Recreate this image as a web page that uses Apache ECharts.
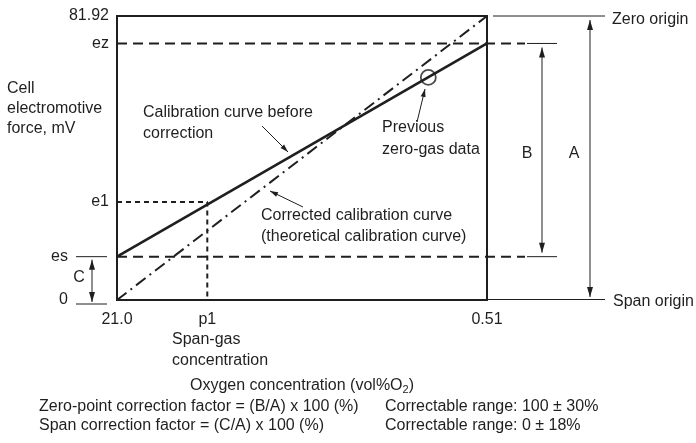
<!DOCTYPE html>
<html>
<head>
<meta charset="utf-8">
<script src="https://cdn.jsdelivr.net/npm/echarts@6/dist/echarts.min.js"></script>
<style>
  html, body { margin: 0; padding: 0; background: #fff; }
  #chart { width: 696px; height: 443px; }
</style>
</head>
<body>
<div id="chart"></div>
<script>
// Oxygen concentration axis (vol%O2): span gas on the left, zero gas on the right
const xSpan = 21.0;
const xZero = 0.51;
const p1 = 16.0;             // span-gas concentration

// Cell electromotive force (mV)
const yTop = 81.92;
const ez = 74.0;
const es = 12.5;
const e1 = 28.3;

// Calibration curves and the previous zero-gas reading
const curveBefore = [[xSpan, es], [xZero, ez]];
const curveCorrected = [[xSpan, 0], [xZero, yTop]];
const previousZero = [[3.76, 64.2]];
const e1Guide = [[xSpan, e1], [p1, e1], [p1, 0]];

// Tick labels
const xTicks = [xSpan, p1, xZero];
const xTickLabels = ['21.0', 'p1', '0.51'];
const yTicks = [0, es, e1, ez, yTop];
const yTickLabels = ['0', 'es', 'e1', 'ez', '81.92'];
const yFarLabels = ['0', 'es'];

const INK = '#1f1f1f';
const FONT = 'Liberation Sans, Arial, sans-serif';
const FS = 16;

const chart = echarts.init(document.getElementById('chart'), null, { renderer: 'canvas' });

chart.setOption({
  animation: false,
  backgroundColor: '#fff',
  textStyle: { fontFamily: FONT, color: INK },
  grid: {
    left: 117, right: 209, top: 16, bottom: 143,
    show: true, borderColor: INK, borderWidth: 2, backgroundColor: 'transparent'
  },
  xAxis: {
    type: 'value', inverse: true, min: xZero, max: xSpan,
    axisLine: { show: false }, axisTick: { show: false }, splitLine: { show: false },
    axisLabel: {
      customValues: xTicks,
      margin: 12,
      fontFamily: FONT, fontSize: FS, color: INK,
      formatter: v => xTickLabels[xTicks.indexOf(v)] ?? ''
    },
    name: 'Oxygen concentration (vol%O{sub|2})',
    nameLocation: 'middle',
    nameGap: 77,
    nameTextStyle: {
      fontFamily: FONT, fontSize: FS, color: INK,
      rich: { sub: { fontSize: 11, verticalAlign: 'bottom', padding: [7, 0, 0, 0], fontFamily: FONT, color: INK } }
    }
  },
  yAxis: {
    type: 'value', min: 0, max: yTop,
    axisLine: { show: false }, axisTick: { show: false }, splitLine: { show: false },
    axisLabel: {
      customValues: yTicks,
      margin: 8,
      fontFamily: FONT, fontSize: FS, color: INK,
      formatter: v => {
        const t = yTickLabels[yTicks.indexOf(v)] ?? '';
        return yFarLabels.includes(t) ? '{far|' + t + '}' : t;
      },
      rich: { far: { padding: [0, 41, 0, 0], fontFamily: FONT, fontSize: FS, color: INK } }
    }
  },
  series: [
    {
      name: 'Calibration curve before correction', type: 'line', data: curveBefore,
      symbol: 'none', lineStyle: { color: INK, width: 2.6 }, z: 5
    },
    {
      name: 'Corrected calibration curve', type: 'line', data: curveCorrected,
      symbol: 'none', lineStyle: { color: INK, width: 2, type: [12, 5, 2, 5] }, z: 4
    },
    {
      name: 'e1 guide', type: 'line', data: e1Guide,
      symbol: 'none', lineStyle: { color: INK, width: 2, type: [5, 4] }, z: 3
    },
    {
      name: 'Previous zero-gas data', type: 'scatter', data: previousZero,
      symbol: 'circle', symbolSize: 15,
      itemStyle: { color: 'rgba(255,255,255,0)', borderColor: INK, borderWidth: 1.8 }, z: 6
    }
  ]
});

// Annotations placed from the axis scales
const px = (x, y) => chart.convertToPixel({ gridIndex: 0 }, [x, y]);
const yOf = v => px(xSpan, v)[1];
const xLeft = px(xSpan, 0)[0];
const xRight = px(xZero, 0)[0];

function seg(x1, y1, x2, y2, w, dash) {
  return {
    type: 'line', silent: true,
    shape: { x1, y1, x2, y2 },
    style: { stroke: INK, lineWidth: w, lineDash: dash || null }
  };
}
function head(tx, ty, fx, fy, len, half) {
  const dx = tx - fx, dy = ty - fy, L = Math.hypot(dx, dy);
  const ux = dx / L, uy = dy / L;
  const bx = tx - ux * len, by = ty - uy * len;
  return {
    type: 'polygon', silent: true,
    shape: { points: [[tx, ty], [bx - uy * half, by + ux * half], [bx + uy * half, by - ux * half]] },
    style: { fill: INK }
  };
}
function arrow(x1, y1, x2, y2, both, len, half) {
  const out = [seg(x1, y1, x2, y2, 1)];
  out.push(head(x2, y2, x1, y1, len || 10, half || 3));
  if (both) out.push(head(x1, y1, x2, y2, len || 10, half || 3));
  return out;
}
function text(str, x, y, opts) {
  return {
    type: 'text', silent: true, x, y,
    style: Object.assign({
      text: str, fill: INK, fontFamily: FONT, fontSize: FS,
      align: 'left', verticalAlign: 'middle'
    }, (opts && opts.style) || {})
  };
}
function block(str, x, yFirst, lh) {
  return {
    type: 'text', silent: true, x, y: yFirst - lh / 2,
    style: { text: str, fill: INK, fontFamily: FONT, fontSize: FS, lineHeight: lh, align: 'left', verticalAlign: 'top' }
  };
}

const yT = yOf(yTop), yZ = yOf(ez), yS = yOf(es), y0 = yOf(0);

const g = [];
// Dashed ez / es reference lines and their extensions
g.push(seg(xLeft, yZ, 525, yZ, 2, [10, 6]));
g.push(seg(xLeft, yS, 525, yS, 2, [10, 6]));
g.push(seg(527, yZ, 557, yZ, 1));
g.push(seg(527, yS, 557, yS, 1));
// Origin lines
g.push(seg(493, yT, 605, yT, 1));
g.push(seg(xRight, y0 - 0.5, 605, y0 - 0.5, 1));
// Left reference marks for es and 0
g.push(seg(76, yS, 107, yS, 1));
g.push(seg(76, y0 + 4, 107, y0 + 4, 1));
// Dimension arrows A, B, C
g.push(...arrow(590, yT + 4, 590, y0 - 3, true));
g.push(...arrow(542, yZ + 4, 542, yS - 4, true));
g.push(...arrow(92, yS + 3, 92, y0 + 2, true));
// Leader arrows
g.push(...arrow(262, 126, 288, 152, false, 8, 2.5));
g.push(...arrow(303, 207, 270, 191, false, 8, 2.5));
g.push(...arrow(417, 122, 425, 89, false, 8, 2.5));
// Dimension letters
g.push(text('A', 574, 154, { style: { align: 'center' } }));
g.push(text('B', 527, 154, { style: { align: 'center' } }));
g.push(text('C', 79, 278, { style: { align: 'center' } }));
// Origin labels
g.push(text('Zero origin', 612, yT + 4));
g.push(text('Span origin', 613, y0 + 2));
// Curve descriptions
g.push(block('Calibration curve before\ncorrection', 143, 113, 21));
g.push(block('Previous\nzero-gas data', 382, 128, 22));
g.push(block('Corrected calibration curve\n(theoretical calibration curve)', 261, 216, 21));
// Axis captions
g.push(block('Cell\nelectromotive\nforce, mV', 7, 89, 20));
g.push(block('Span-gas\nconcentration', 172, 340, 21));
// Correction factor notes
g.push(text('Zero-point correction factor = (B/A) x 100 (%)', 39, 407));
g.push(text('Span correction factor = (C/A) x 100 (%)', 39, 426));
g.push(text('Correctable range: 100 \u00b1 30%', 385, 407));
g.push(text('Correctable range: 0 \u00b1 18%', 385, 426));

chart.setOption({ graphic: g });
</script>
</body>
</html>
